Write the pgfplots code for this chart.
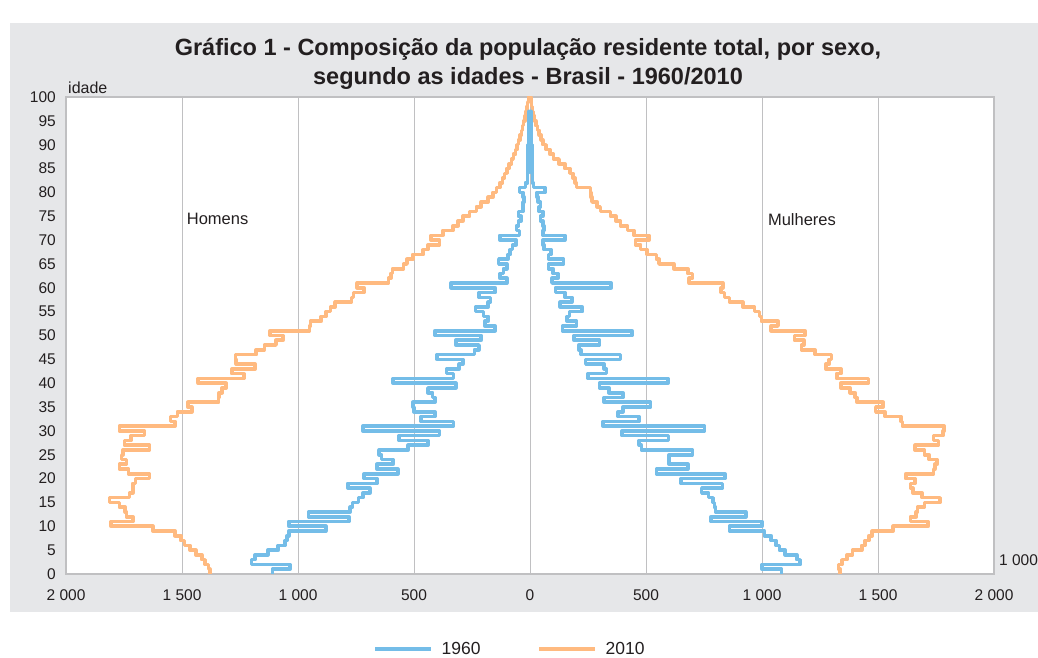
\documentclass[border=0pt]{standalone}
\usepackage{fontspec}
\setmainfont{Liberation Sans}
\usepackage{pgfplots}
\usepackage{pgfplotstable}
\pgfplotsset{compat=1.18}
\definecolor{c60}{RGB}{116,189,232}
\definecolor{c10}{RGB}{255,186,128}
\definecolor{panel}{RGB}{230,231,233}
\definecolor{gridc}{RGB}{192,192,194}
\definecolor{txt}{RGB}{35,31,32}

\pgfplotstableread{
age m60 f60 m10 f10
0 -1110 1084 -1380 1337
1 -1035 1000 -1385 1330
2 -1200 1165 -1400 1345
3 -1185 1150 -1415 1366
4 -1130 1100 -1440 1390
5 -1085 1075 -1465 1430
6 -1055 1060 -1490 1445
7 -1048 1040 -1505 1460
8 -1040 1010 -1530 1475
9 -880 860 -1625 1565
10 -1040 1000 -1806 1716
11 -780 780 -1712 1640
12 -955 930 -1740 1665
13 -775 800 -1745 1670
14 -765 795 -1770 1700
15 -740 790 -1813 1768
16 -720 770 -1726 1690
17 -690 740 -1712 1650
18 -785 830 -1712 1640
19 -660 650 -1700 1660
20 -715 840 -1640 1620
21 -570 545 -1730 1740
22 -660 680 -1770 1745
23 -590 600 -1740 1755
24 -640 600 -1760 1720
25 -650 700 -1755 1700
26 -525 480 -1640 1660
27 -440 471 -1748 1760
28 -565 597 -1720 1740
29 -390 397 -1662 1780
30 -720 752 -1770 1785
31 -330 315 -1530 1605
32 -470 470 -1550 1600
33 -410 380 -1520 1530
34 -500 400 -1458 1490
35 -505 520 -1475 1522
36 -410 320 -1342 1410
37 -420 400 -1340 1402
38 -440 340 -1327 1380
39 -320 300 -1310 1340
40 -590 595 -1430 1459
41 -330 250 -1234 1322
42 -360 330 -1285 1340
43 -305 320 -1185 1275
44 -290 240 -1266 1290
45 -400 390 -1270 1300
46 -240 220 -1180 1228
47 -220 210 -1145 1170
48 -320 300 -1095 1180
49 -210 190 -1065 1140
50 -410 440 -1120 1185
51 -150 140 -950 1040
52 -195 200 -946 1069
53 -180 160 -900 997
54 -200 170 -880 990
55 -235 225 -860 968
56 -180 130 -840 917
57 -170 180 -770 860
58 -220 150 -760 838
59 -150 110 -715 824
60 -340 350 -745 831
61 -100 95 -610 686
62 -130 120 -600 700
63 -115 100 -592 680
64 -100 80 -545 620
65 -135 145 -530 556
66 -95 80 -505 545
67 -85 90 -460 505
68 -75 60 -440 477
69 -60 55 -390 455
70 -130 150 -426 513
71 -45 55 -376 448
72 -58 60 -332 420
73 -50 55 -310 390
74 -38 45 -290 370
75 -50 55 -260 347
76 -30 40 -231 303
77 -30 45 -210 290
78 -25 35 -180 267
79 -30 30 -160 262
80 -45 65 -145 260
81 -20 15 -130 200
82 -10 10 -118 195
83 -10 10 -110 185
84 -9 9 -100 173
85 -9 9 -90 150
86 -9 9 -80 125
87 -8 8 -72 101
88 -8 8 -62 85
89 -8 8 -55 70
90 -7 7 -50 55
91 -7 7 -43 48
92 -6 6 -37 40
93 -6 6 -32 33
94 -5 5 -28 25
95 -5 5 -22 20
96 -4 4 -18 15
97 -4 4 -14 10
98 nan nan -10 7
99 nan nan -7 4
100 nan nan -5 2
}\pyr

\begin{document}
\begin{tikzpicture}[x=1pt,y=1pt]
\useasboundingbox (0,0) rectangle (1038,658);
\fill[white] (0,0) rectangle (1038,658);
\fill[panel] (10,46) rectangle (1038,635);
\node[font=\fontsize{23.5}{28}\selectfont\bfseries, text=txt, anchor=center] at (528,609) {Gráfico 1 - Composição da população residente total, por sexo,};
\node[font=\fontsize{23.5}{28}\selectfont\bfseries, text=txt, anchor=center] at (528,580) {segundo as idades - Brasil - 1960/2010};
\node[font=\fontsize{16}{19}\selectfont, text=txt, anchor=west, inner sep=0pt] at (68,570) {idade};
\node[font=\fontsize{15.5}{18}\selectfont, text=txt, anchor=west, inner sep=0pt] at (999,98) {1 000};
\begin{axis}[
  at={(66pt,84pt)}, anchor=south west,
  scale only axis, width=928pt, height=477pt,
  xmin=-2000, xmax=2000, ymin=0, ymax=100,
  axis background/.style={fill=white},
  axis line style={draw=gridc, line width=1.5pt},
  xtick={-2000,-1500,-1000,-500,0,500,1000,1500,2000},
  xticklabels={2 000,1 500,1 000,500,0,500,1 000,1 500,2 000},
  ytick={0,5,...,100},
  /pgf/number format/assume math mode=true,
  major tick length=0pt,
  xmajorgrids, ymajorgrids=false,
  major grid style={draw=gridc, line width=1pt},
  tick label style={font=\fontsize{15.5}{18}\selectfont, text=txt},
  xticklabel style={anchor=center, yshift=-21pt},
  yticklabel style={anchor=east, inner sep=0pt, xshift=-10pt},
  legend columns=2,
  legend style={at={(0.331,-0.158)}, anchor=west, draw=none, fill=none,
    inner sep=0pt, font=\fontsize{17.5}{20}\selectfont, text=txt,
    /tikz/every even column/.append style={column sep=55pt}},
  legend image code/.code={\draw[#1, line width=4pt, line cap=butt] (0pt,0pt) -- (56pt,0pt); \path (64pt,0pt);},
  clip=true,
]
\addlegendimage{c60}
\addlegendentry{1960}
\addlegendimage{c10}
\addlegendentry{2010}
\addplot[forget plot, c10, line width=3.6pt, line join=round, line cap=round, const plot mark right] table[x=m10, y=age] {\pyr};
\addplot[forget plot, c10, line width=3.6pt, line join=round, line cap=round, const plot mark right] table[x=f10, y=age] {\pyr};
\addplot[forget plot, c60, line width=3.6pt, line join=round, line cap=round, const plot mark right] table[x=m60, y=age] {\pyr};
\addplot[forget plot, c60, line width=3.6pt, line join=round, line cap=round, const plot mark right] table[x=f60, y=age] {\pyr};
\node[font=\fontsize{16.5}{19}\selectfont, text=txt, anchor=west, inner sep=0pt] at (axis cs:-1480,74.4) {Homens};
\node[font=\fontsize{16.5}{19}\selectfont, text=txt, anchor=west, inner sep=0pt] at (axis cs:1025,74.4) {Mulheres};
\end{axis}
\end{tikzpicture}
\end{document}
